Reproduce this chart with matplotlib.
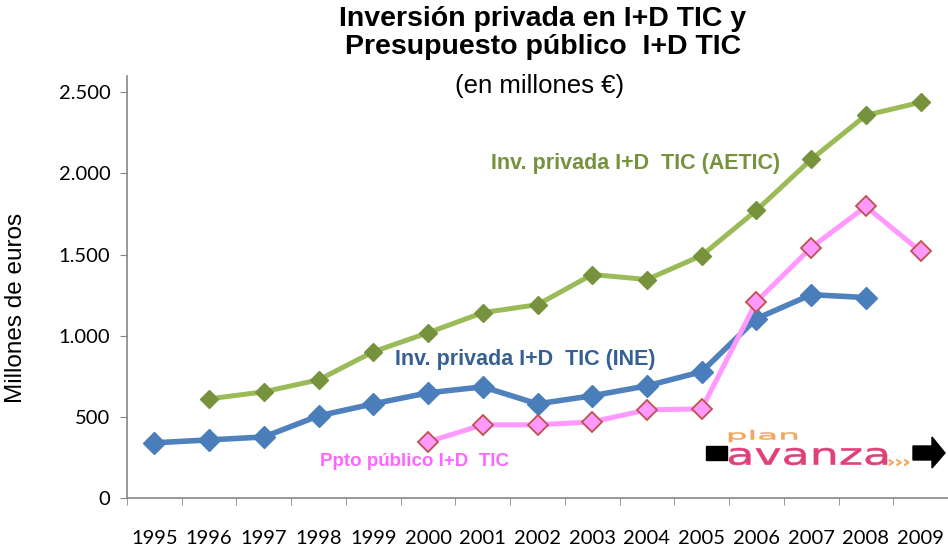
import numpy as np
import matplotlib.pyplot as plt
from matplotlib.patches import Rectangle, Polygon, PathPatch
from matplotlib.textpath import TextPath
from matplotlib.font_manager import FontProperties
from matplotlib.transforms import Affine2D

years = ['1995', '1996', '1997', '1998', '1999', '2000', '2001', '2002',
         '2003', '2004', '2005', '2006', '2007', '2008', '2009']
# nan where the series has no value
aetic = [np.nan, 611, 654, 728, 901, 1018, 1142, 1191, 1377, 1346, 1494, 1772, 2086, 2358, 2438]
ine = [340, 358, 376, 506, 580, 648, 685, 580, 630, 691, 778, 1105, 1253, 1235, np.nan]
ppto = [np.nan, np.nan, np.nan, np.nan, np.nan, 346, 451, 451, 469, 543, 549, 1210, 1543, 1796, 1519]

x = np.arange(len(years))
W, H = 948, 551

fig = plt.figure(figsize=(W / 100, H / 100), dpi=100)
ax = fig.add_axes([127 / W, 53 / H, 821 / W, 422 / H])

ax.plot(x, aetic, color='#9BBB59', lw=3.6, marker='D', ms=9.5,
        mfc='#76923C', mec='#76923C', zorder=3)
ax.plot(x, ine, color='#4F81BD', lw=4, marker='D', ms=11,
        mfc='#4A7EBB', mec='#4A7EBB', zorder=3)
ax.plot(x, ppto, color='#FF99FF', lw=3.6, marker='D', ms=10,
        mfc='#FF99FF', mec='#C0504D', mew=1.3, zorder=4)

ax.set_xlim(-0.5, len(years) - 0.5)
ax.set_ylim(0, 2600)
ax.set_yticks(np.arange(0, 2501, 500))
ax.set_yticklabels(['0', '500', '1.000', '1.500', '2.000', '2.500'])
ax.set_xticks(x)
ax.set_xticklabels(years)
ax.set_xticks(np.arange(-0.5, len(years), 1), minor=True)
ax.tick_params(axis='x', which='major', length=0, pad=23, labelsize=14.5)
ax.tick_params(axis='x', which='minor', length=5, color='#868686', direction='out')
ax.tick_params(axis='y', length=5, color='#868686', labelsize=14.5, pad=7)
for lab in ax.get_xticklabels() + ax.get_yticklabels():
    lab.set_family('Lato')

for s in ['top', 'right']:
    ax.spines[s].set_visible(False)
for s in ['left', 'bottom']:
    ax.spines[s].set_color('#868686')
    ax.spines[s].set_linewidth(1.2)

fig.text(16 / W, 1 - 308 / H, 'Millones de euros', rotation=90, ha='center', va='center',
         fontsize=17.5, family='Liberation Sans')

fig.text(543 / W, 1 - 33 / H, 'Inversión privada en I+D TIC y\nPresupuesto público  I+D TIC',
         ha='center', va='center', fontsize=20.5, fontweight='bold',
         family='Liberation Sans', linespacing=1.1)
fig.text(540 / W, 1 - 86 / H, '(en millones €)', ha='center', va='center',
         fontsize=18.5, family='Liberation Sans')

fig.text(636 / W, 1 - 163 / H, 'Inv. privada I+D  TIC (AETIC)', ha='center', va='center',
         fontsize=15.5, fontweight='bold', color='#76923C', family='Liberation Sans')
fig.text(525 / W, 1 - 359 / H, 'Inv. privada I+D  TIC (INE)', ha='center', va='center',
         fontsize=15.5, fontweight='bold', color='#366092', family='Liberation Sans')
fig.text(415 / W, 1 - 462 / H, 'Ppto público I+D  TIC', ha='center', va='center',
         fontsize=13.5, fontweight='bold', color='#FF66FF', family='Liberation Sans')

# plan avanza logo (pixel coordinates, origin bottom-left)
fig.patches.append(Rectangle((706, H - 460), 21, 14, transform=None, color='black'))
fig.patches.append(Polygon([(913, H - 460), (932, H - 460), (932, H - 468), (945, H - 453),
                            (932, H - 437), (932, H - 446), (913, H - 446)],
                           closed=True, transform=None, color='black'))


def stretched(s, x0, y0, w, h, color, weight='normal'):
    tp = TextPath((0, 0), s, size=10, prop=FontProperties(family='DejaVu Sans', weight=weight))
    bb = tp.get_extents()
    tr = Affine2D().translate(-bb.x0, -bb.y0).scale(w / bb.width, h / bb.height).translate(x0, y0)
    fig.patches.append(PathPatch(tr.transform_path(tp), transform=None,
                                 fc=color, ec=color, lw=0.4))


stretched('avanza', 729, H - 465, 158, 17, '#E0407A')
stretched('plan', 729, H - 442, 68, 12, '#F0A860')
stretched('›››', 889, H - 466, 20, 7, '#F0A860', 'bold')

fig.savefig('out.png', dpi=100)
